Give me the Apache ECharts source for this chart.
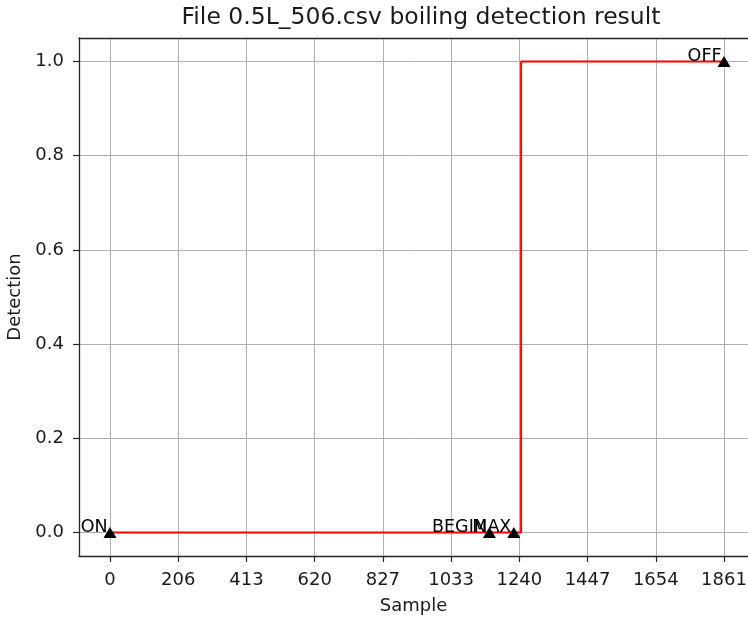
<!DOCTYPE html>
<html>
<head>
<meta charset="utf-8">
<script src="https://cdn.jsdelivr.net/npm/echarts@6/dist/echarts.min.js"></script>
<style>html,body{margin:0;padding:0;background:#fff}#c{width:748px;height:619px}</style>
</head>
<body>
<div id="c"></div>
<script>
const xTicks = [0, 206.78, 413.56, 620.33, 827.11, 1033.89, 1240.67, 1447.44, 1654.22, 1861];
const xTickLabels = ['0','206','413','620','827','1033','1240','1447','1654','1861'];
const yTicks = [0, 0.2, 0.4, 0.6, 0.8, 1.0];
const stepX = [0, 1246, 1861];
const stepY = [0, 1, 1];
const eventNames = ['ON', 'BEGIN', 'MAX', 'OFF'];
const eventX = [0, 1150, 1224, 1861];
const eventY = [0, 0, 0, 1];

const font = 'DejaVu Sans';
const textColor = '#1a1a1a';
const xMin = -93.96, xMax = 1933.7;
const chart = echarts.init(document.getElementById('c'));
chart.setOption({
  animation: false,
  title: {
    text: 'File 0.5L_506.csv boiling detection result',
    left: 416, top: 1, textAlign: 'center',
    textStyle: {fontFamily: font, fontSize: 23.5, fontWeight: 'normal', color: textColor}
  },
  grid: {left: 79, top: 38, right: 0, bottom: 63, show: false, containLabel: false, outerBoundsMode: 'none'},
  xAxis: [{
    type: 'value', min: xMin, max: xMax,
    name: 'Sample', nameLocation: 'middle', nameGap: 41,
    nameTextStyle: {fontFamily: font, fontSize: 18, color: textColor},
    axisLine: {show: true, onZero: false, lineStyle: {color: '#262626', width: 1.3}},
    axisTick: {show: true, length: 6, lineStyle: {color: '#262626', width: 1.2}, customValues: xTicks},
    axisLabel: {fontFamily: font, fontSize: 18, color: textColor, margin: 15, customValues: xTicks,
      formatter: function (v) { const i = xTicks.findIndex(t => Math.abs(t - v) < 1e-6); return i >= 0 ? xTickLabels[i] : ''; }},
    splitLine: {show: true, lineStyle: {color: '#b0b0b0', width: 1}}
  }, {
    type: 'value', position: 'top', min: xMin, max: xMax,
    axisLine: {show: true, onZero: false, lineStyle: {color: '#262626', width: 1.3}},
    axisTick: {show: false}, axisLabel: {show: false}, splitLine: {show: false}
  }],
  yAxis: {
    type: 'value', min: -0.05, max: 1.05,
    name: 'Detection', nameLocation: 'middle', nameGap: 55, nameRotate: 90,
    nameTextStyle: {fontFamily: font, fontSize: 18, color: textColor},
    axisLine: {show: true, onZero: false, lineStyle: {color: '#262626', width: 1.3}},
    axisTick: {show: true, length: 6, lineStyle: {color: '#262626', width: 1.2}, customValues: yTicks},
    axisLabel: {fontFamily: font, fontSize: 18, color: textColor, margin: 15, customValues: yTicks,
      formatter: function (v) { return v.toFixed(1); }},
    splitLine: {show: true, lineStyle: {color: '#b0b0b0', width: 1}}
  },
  series: [
    {
      type: 'line', step: 'end', symbol: 'none',
      data: stepX.map((x, i) => [x, stepY[i]]),
      lineStyle: {color: '#ff0000', width: 2}
    },
    {
      type: 'scatter', symbol: 'triangle', symbolSize: [13, 11],
      itemStyle: {color: '#000', opacity: 1},
      data: eventX.map((x, i) => ({value: [x, eventY[i]], name: eventNames[i]})),
      label: {show: true, formatter: '{b}', position: [4, 9.5], align: 'right', verticalAlign: 'bottom',
        fontFamily: font, fontSize: 17.5, color: '#000', opacity: 1},
      emphasis: {disabled: true},
      z: 5
    }
  ]
});
</script>
</body>
</html>
